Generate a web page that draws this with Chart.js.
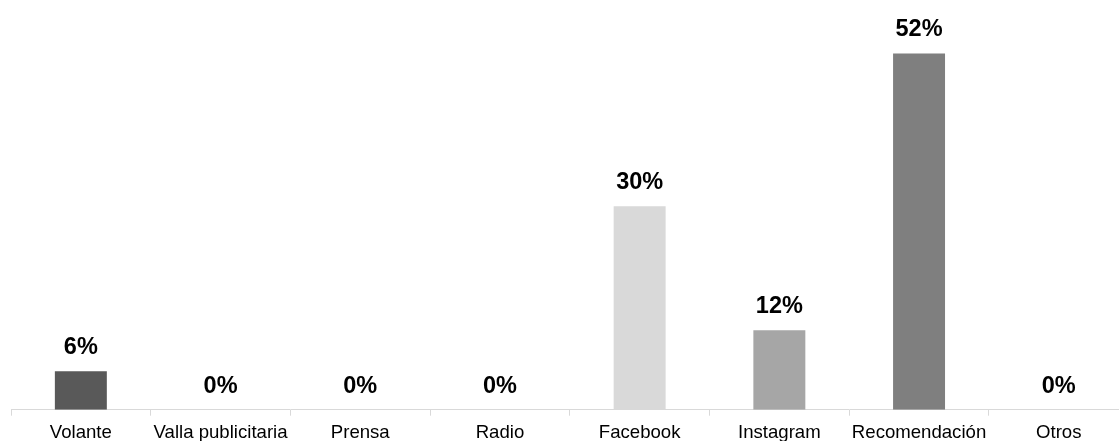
<!DOCTYPE html>
<html lang="es">
<head>
  <meta charset="UTF-8">
  <title>Medios</title>
  <script src="https://cdn.jsdelivr.net/npm/chart.js"></script>
  <style>
    html, body {
      margin: 0;
      padding: 0;
      background: #fff;
      overflow: hidden;
      width: 1119px;
      height: 441px;
    }
    #chart {
      display: block;
    }
  </style>
</head>
<body>
  <canvas id="chart" width="1132" height="454"></canvas>

  <script>
    // data (bar heights), labels show rounded values
    const categories = ["Volante", "Valla publicitaria", "Prensa", "Radio", "Facebook", "Instagram", "Recomendación", "Otros"];
    const shares = [5.6, 0, 0, 0, 29.7, 11.6, 52, 0];
    const barColors = ["#595959", "#595959", "#595959", "#595959", "#d9d9d9", "#a6a6a6", "#7f7f7f", "#7f7f7f"];

    const fontFamily = '"Liberation Sans", Arial, sans-serif';

    // percentage labels above each bar
    const valueLabels = {
      id: "valueLabels",
      afterDatasetsDraw(chart) {
        const ctx = chart.ctx;
        const meta = chart.getDatasetMeta(0);
        ctx.save();
        ctx.font = "bold 23.5px " + fontFamily;
        ctx.textAlign = "center";
        ctx.textBaseline = "alphabetic";
        ctx.fillStyle = "#000";
        meta.data.forEach((bar, i) => {
          ctx.fillText(Math.round(shares[i]) + "%", bar.x, bar.y - 17);
        });
        ctx.restore();
      }
    };

    new Chart(document.getElementById("chart").getContext("2d"), {
      type: "bar",
      data: {
        labels: categories,
        datasets: [{
          data: shares,
          backgroundColor: barColors,
          borderWidth: 0,
          barPercentage: 0.372,
          categoryPercentage: 1
        }]
      },
      options: {
        responsive: false,
        animation: false,
        layout: {
          padding: { left: 11, right: 3.4, top: 0, bottom: 4 }
        },
        plugins: {
          legend: { display: false },
          tooltip: { enabled: false }
        },
        scales: {
          x: {
            offset: true,
            grid: {
              offset: true,
              drawOnChartArea: false,
              drawTicks: true,
              tickLength: 6,
              color: "#d9d9d9"
            },
            border: { color: "#d9d9d9", width: 1 },
            ticks: {
              color: "#000",
              padding: 6,
              maxRotation: 0,
              autoSkip: false,
              font: { family: fontFamily, size: 18.6 }
            }
          },
          y: {
            display: false,
            min: 0,
            max: 59.8
          }
        }
      },
      plugins: [valueLabels]
    });
  </script>
</body>
</html>
